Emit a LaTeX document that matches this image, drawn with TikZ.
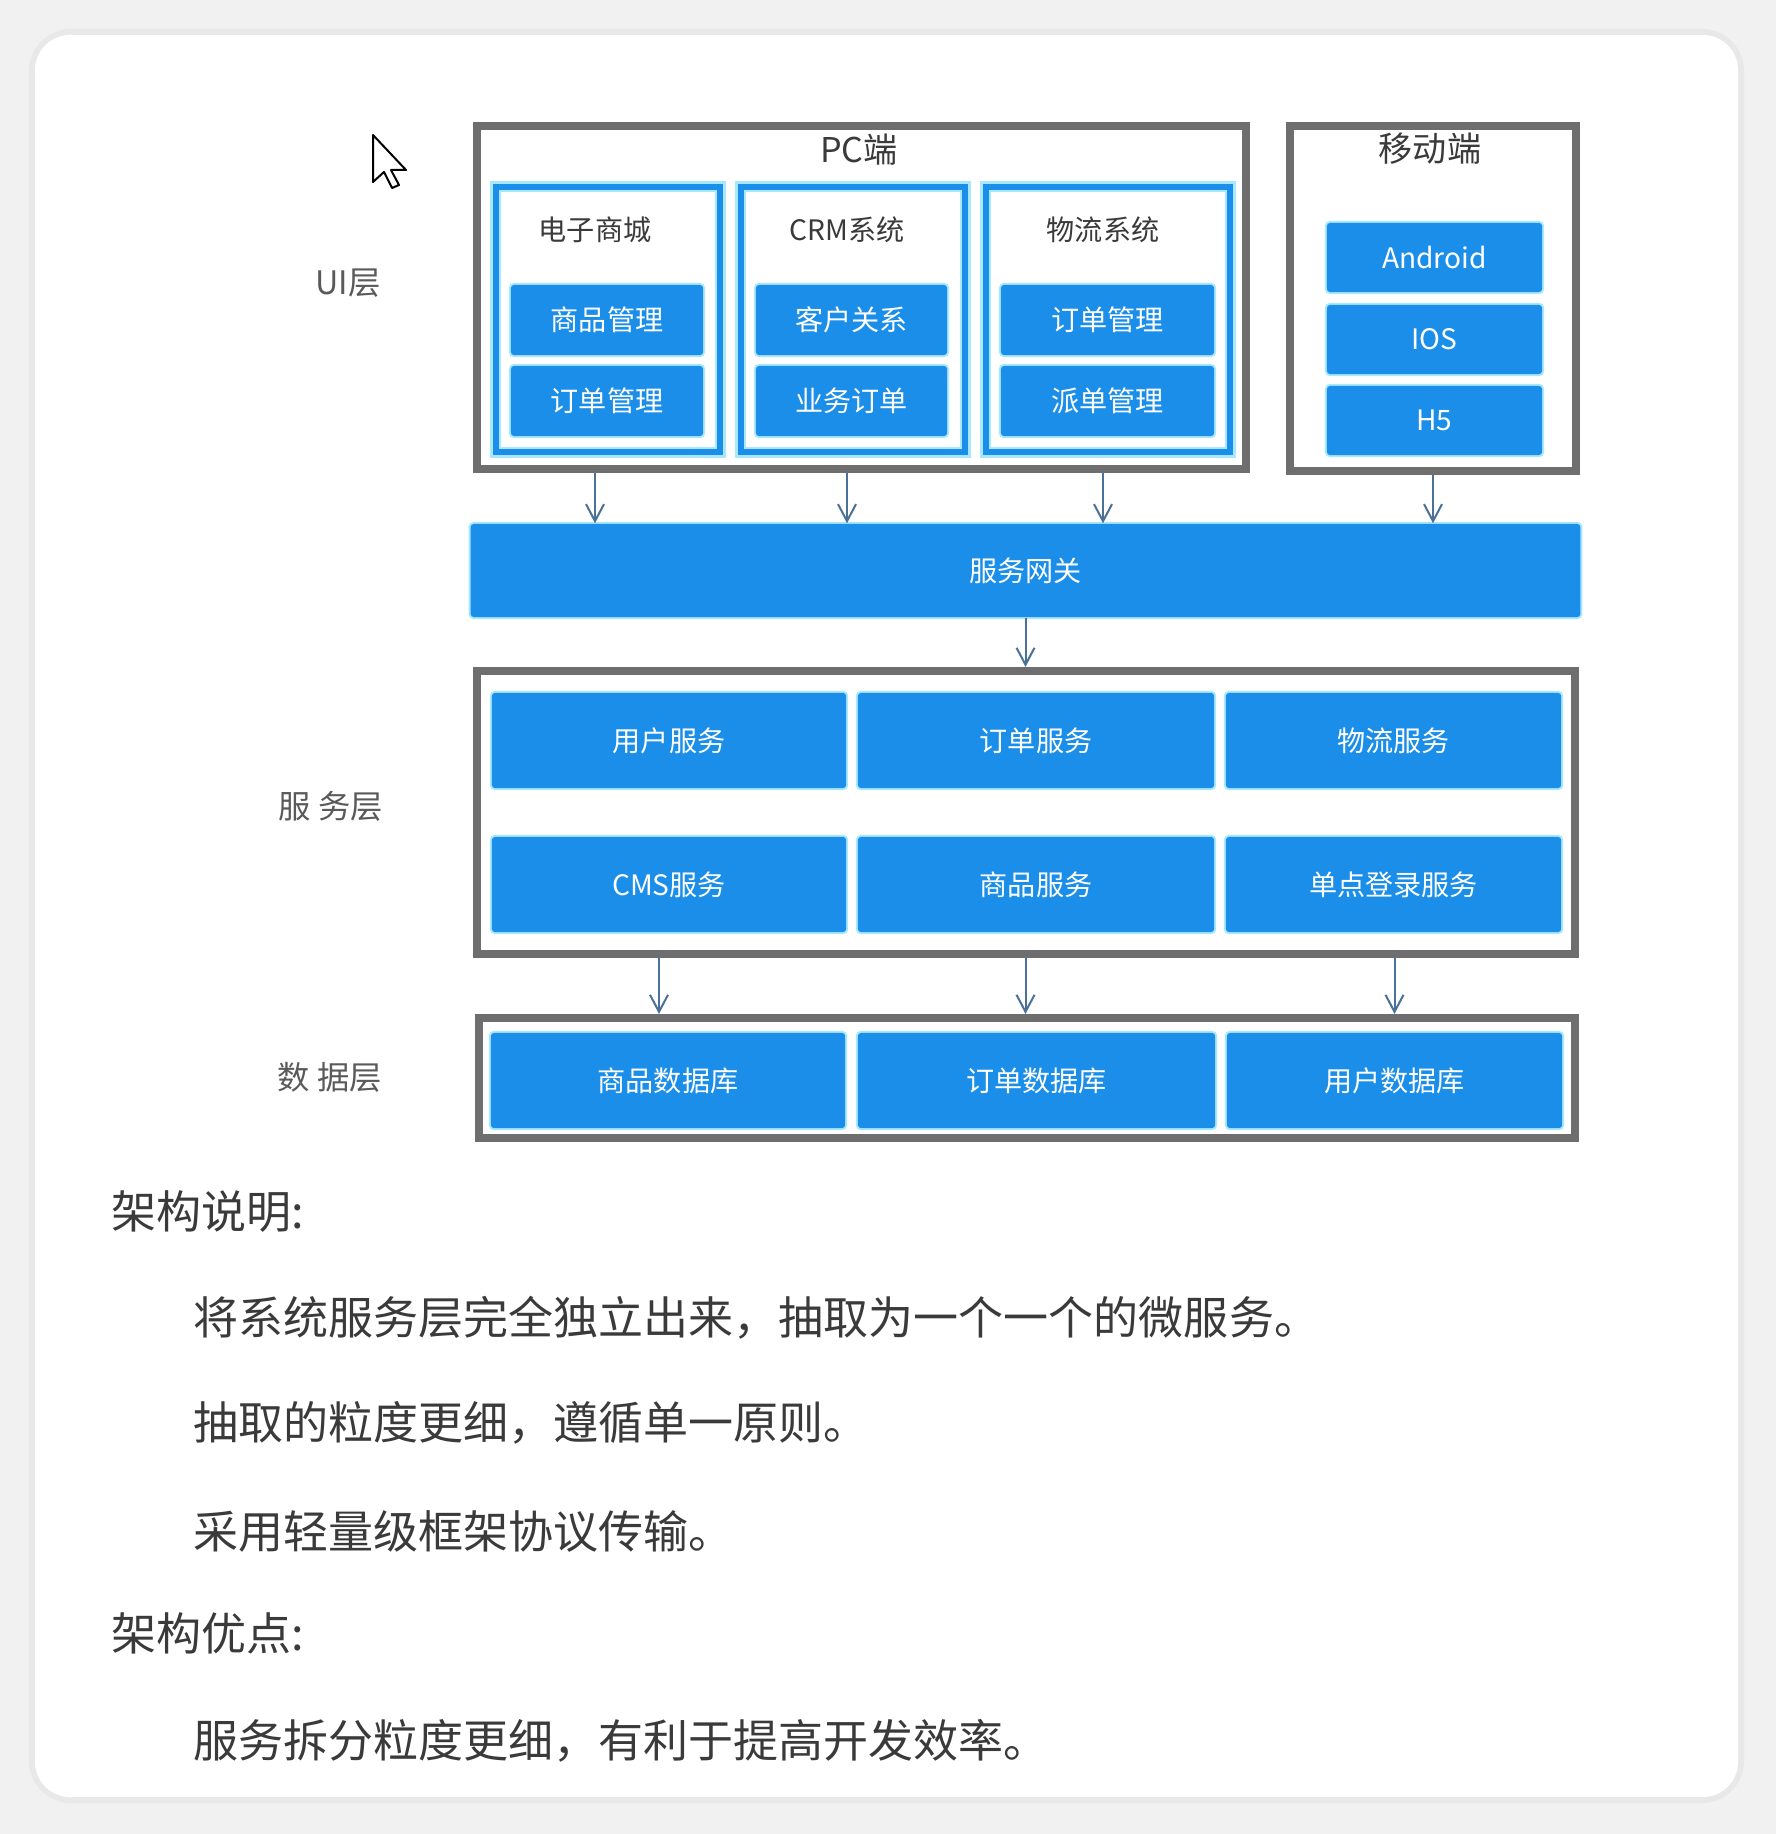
\documentclass[tikz,border=0pt]{standalone}
\usepackage{fontspec}
\setmainfont{Noto Sans CJK SC}
\usetikzlibrary{arrows.meta}
\definecolor{btnblue}{HTML}{1A8EE8}
\definecolor{boxgray}{HTML}{6E6E6E}
\definecolor{arrowblue}{HTML}{4A7196}
\definecolor{txtgray}{HTML}{3A3A3A}
\definecolor{layergray}{HTML}{5A5A5A}
\definecolor{glow}{HTML}{A8E8FF}
\definecolor{pagegray}{HTML}{F1F1F1}
\tikzset{
	btn/.style={rectangle, fill=btnblue, rounded corners=0.03cm, text=white, inner sep=0pt,
		font=\fontsize{8}{9}\selectfont, preaction={draw=glow, line width=0.04cm}},
	layerbox/.style={rectangle, draw=boxgray, line width=0.08cm, inner sep=0pt},
	sysbox/.style={rectangle, draw=btnblue, line width=0.06cm, inner sep=0pt,
		preaction={draw=glow, line width=0.11cm}},
	arr/.style={draw=arrowblue, line width=0.02cm,
		-{Straight Barb[length=0.17cm, width=0.18cm, line width=0.02cm]}},
	title/.style={text=txtgray, font=\fontsize{9.7}{11}\selectfont},
	syslabel/.style={text=txtgray, font=\fontsize{8}{9}\selectfont},
	layerlabel/.style={text=layergray, font=\fontsize{9.2}{11}\selectfont},
	bodytext/.style={text=txtgray, anchor=west, inner sep=0pt, font=\fontsize{12.8}{15}\selectfont}
}

\begin{document}
\begin{tikzpicture}[x=0.01cm, y=-0.01cm]
		%%%%% START %%%%%
		\useasboundingbox (0,0) rectangle (1776,1834);
		\fill[pagegray] (0,0) rectangle (1776,1834);
		\draw[black!9, line width=0.12cm, rounded corners=0.36cm] (35,35) rectangle (1738,1797);
		\fill[white, rounded corners=0.35cm] (35,35) rectangle (1738,1797);
		
		\draw[black, line width=0.02cm, fill=white, line join=round] (373,135) -- ++(0,47) -- ++(11,-10) -- ++(8,16) -- ++(7,-3) -- ++(-8,-15) -- ++(15,0) -- cycle;
		
		\node[layerlabel] (uilayer) at (348,283) {UI层};
		\node[layerlabel] (svclayer) at (331,806) {服 务层};
		\node[layerlabel] (dblayer) at (330,1077) {数 据层};
		
		\node[layerbox, minimum width=7.69cm, minimum height=3.43cm] (pc) at (861.5,297.5) {};
		\node[title] (pclbl) at (859,150) {PC端};
		
		\node[sysbox, minimum width=2.24cm, minimum height=2.65cm] (shop) at (608,319.5) {};
		\node[sysbox, minimum width=2.24cm, minimum height=2.65cm] (crm) at (853,319.5) {};
		\node[sysbox, minimum width=2.44cm, minimum height=2.65cm] (wl) at (1108,319.5) {};
		\node[syslabel] (shoplbl) at (595,230) {电子商城};
		\node[syslabel] (crmlbl) at (847,230) {CRM系统};
		\node[syslabel] (wllbl) at (1103,230) {物流系统};
		
		\node[btn, minimum width=1.92cm, minimum height=0.70cm] (shopA) at (607,320) {商品管理};
		\node[btn, minimum width=1.92cm, minimum height=0.70cm] (shopB) at (607,401) {订单管理};
		\node[btn, minimum width=1.91cm, minimum height=0.70cm] (crmA) at (851.5,320) {客户关系};
		\node[btn, minimum width=1.91cm, minimum height=0.70cm] (crmB) at (851.5,401) {业务订单};
		\node[btn, minimum width=2.13cm, minimum height=0.70cm] (wlA) at (1107.5,320) {订单管理};
		\node[btn, minimum width=2.13cm, minimum height=0.70cm] (wlB) at (1107.5,401) {派单管理};
		
		\node[layerbox, minimum width=2.86cm, minimum height=3.45cm] (mobile) at (1433,298.5) {};
		\node[title] (mobilelbl) at (1430,149) {移动端};
		\node[btn, minimum width=2.15cm, minimum height=0.69cm] (android) at (1434.5,257.5) {Android};
		\node[btn, minimum width=2.15cm, minimum height=0.69cm] (ios) at (1434.5,339.5) {IOS};
		\node[btn, minimum width=2.15cm, minimum height=0.69cm] (hfive) at (1434.5,420.5) {H5};
		
		\node[btn, minimum width=11.09cm, minimum height=0.93cm] (gw) at (1025.5,570.5) {服务网关};
		
		\node[layerbox, minimum width=10.98cm, minimum height=2.83cm] (svc) at (1026,812.5) {};
		\node[btn, minimum width=3.54cm, minimum height=0.95cm] (userSvc) at (669,740.5) {用户服务};
		\node[btn, minimum width=3.56cm, minimum height=0.95cm] (orderSvc) at (1036,740.5) {订单服务};
		\node[btn, minimum width=3.35cm, minimum height=0.95cm] (wlSvc) at (1393.5,740.5) {物流服务};
		\node[btn, minimum width=3.54cm, minimum height=0.95cm] (cmsSvc) at (669,884.5) {CMS服务};
		\node[btn, minimum width=3.56cm, minimum height=0.95cm] (goodsSvc) at (1036,884.5) {商品服务};
		\node[btn, minimum width=3.35cm, minimum height=0.95cm] (ssoSvc) at (1393.5,884.5) {单点登录服务};
		
		\node[layerbox, minimum width=10.96cm, minimum height=1.20cm] (db) at (1027,1078) {};
		\node[btn, minimum width=3.54cm, minimum height=0.95cm] (goodsDb) at (668,1080.5) {商品数据库};
		\node[btn, minimum width=3.57cm, minimum height=0.95cm] (orderDb) at (1036.5,1080.5) {订单数据库};
		\node[btn, minimum width=3.35cm, minimum height=0.95cm] (userDb) at (1394.5,1080.5) {用户数据库};
		
		\draw[arr] (shoplbl |- pc.south) -- (shoplbl |- gw.north);
		\draw[arr] (crmlbl |- pc.south) -- (crmlbl |- gw.north);
		\draw[arr] (wllbl |- pc.south) -- (wllbl |- gw.north);
		\draw[arr] (mobile.south) -- (mobile.south |- gw.north);
		\draw[arr] (gw.south) -- (gw.south |- svc.north);
		\draw[arr] ([xshift=-0.09cm]goodsDb.north |- svc.south) -- ([xshift=-0.09cm]goodsDb.north |- db.north);
		\draw[arr] (gw.south |- svc.south) -- (gw.south |- db.north);
		\draw[arr] (userDb.north |- svc.south) -- (userDb.north |- db.north);
		
		\node[bodytext] (descHead) at (111,1212) {架构说明:};
		\node[bodytext] (descA) at (193,1318) {将系统服务层完全独立出来，抽取为一个一个的微服务。};
		\node[bodytext] (descB) at (193,1423) {抽取的粒度更细，遵循单一原则。};
		\node[bodytext] (descC) at (193,1531) {采用轻量级框架协议传输。};
		\node[bodytext] (prosHead) at (111,1633) {架构优点:};
		\node[bodytext] (prosA) at (193,1741) {服务拆分粒度更细，有利于提高开发效率。};
		
		%%%%% END %%%%%
\end{tikzpicture}
\end{document}
